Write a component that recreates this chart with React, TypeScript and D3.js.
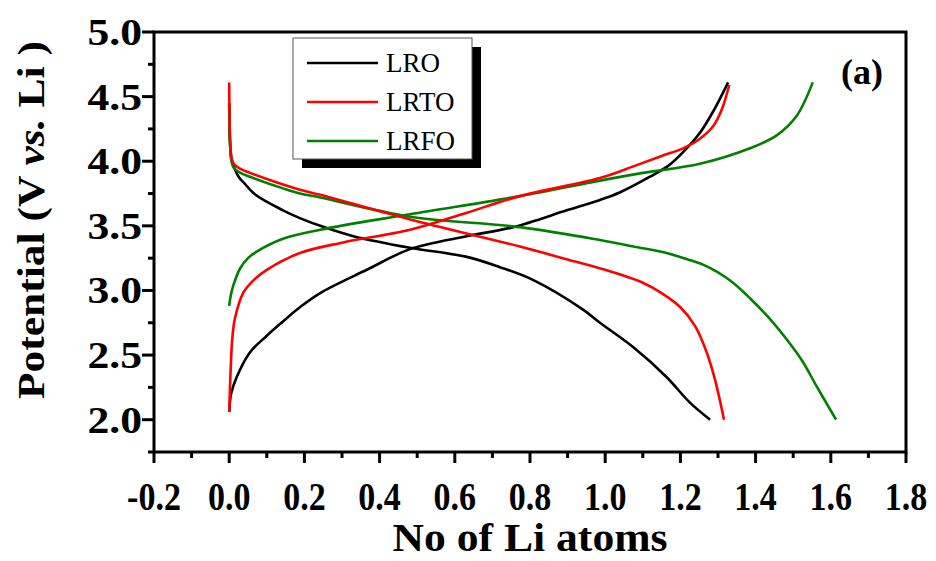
import React from "react";
import * as d3 from "d3";

const W = 936, H = 561;
const M = { left: 154, right: 906, top: 32, bottom: 452 };

const xTicks = [-0.2, 0.0, 0.2, 0.4, 0.6, 0.8, 1.0, 1.2, 1.4, 1.6, 1.8];
const yTicks = [2.0, 2.5, 3.0, 3.5, 4.0, 4.5, 5.0];

const seriesNames = ["LRO", "LRTO", "LRFO"];
const seriesColors = ["#000000", "#ff0000", "#008000"];

const lroCharge: [number, number][] = [
  [0, 2.06], [0.005, 2.2], [0.02, 2.33], [0.055, 2.52], [0.1, 2.65], [0.143, 2.76], [0.188, 2.87], [0.242, 2.98],
  [0.366, 3.16], [0.481, 3.32], [0.632, 3.42], [0.755, 3.49], [0.898, 3.62], [0.986, 3.7],
  [1.04, 3.76], [1.119, 3.88], [1.17, 3.97], [1.207, 4.07], [1.252, 4.22], [1.29, 4.4], [1.327, 4.61],
];
const lroDischarge: [number, number][] = [
  [0, 4.45], [0.002, 4.15], [0.006, 4.02], [0.012, 3.96], [0.025, 3.88], [0.04, 3.83], [0.07, 3.74],
  [0.143, 3.62], [0.188, 3.56], [0.242, 3.5],
  [0.33, 3.42], [0.481, 3.33], [0.632, 3.26], [0.72, 3.18], [0.809, 3.08], [0.942, 2.85], [0.986, 2.75],
  [1.075, 2.56], [1.163, 2.33], [1.226, 2.13], [1.279, 2.0],
];
const lrtoCharge: [number, number][] = [
  [0, 2.06], [0.004, 2.4], [0.008, 2.62], [0.015, 2.78], [0.037, 2.98], [0.065, 3.08], [0.1, 3.16], [0.188, 3.29],
  [0.3, 3.37], [0.481, 3.47], [0.63, 3.6], [0.773, 3.73], [0.986, 3.87], [1.075, 3.96], [1.15, 4.04], [1.207, 4.1],
  [1.25, 4.17], [1.287, 4.27], [1.31, 4.4], [1.33, 4.59],
];
const lrtoDischarge: [number, number][] = [
  [0, 4.61], [0.002, 4.2], [0.006, 4.03], [0.012, 3.98], [0.03, 3.94], [0.055, 3.91], [0.143, 3.82], [0.188, 3.78], [0.242, 3.74],
  [0.481, 3.55], [0.773, 3.34], [0.9, 3.24], [1.0, 3.16], [1.1, 3.06], [1.15, 2.98], [1.2, 2.87],
  [1.24, 2.72], [1.27, 2.52], [1.292, 2.31], [1.316, 2.0],
];
const lrfoCharge: [number, number][] = [
  [0, 2.88], [0.004, 2.96], [0.011, 3.04], [0.029, 3.17], [0.05, 3.25], [0.073, 3.3], [0.143, 3.4], [0.242, 3.47], [0.481, 3.59],
  [0.773, 3.73], [0.986, 3.85], [1.1, 3.91], [1.252, 3.98], [1.385, 4.1], [1.456, 4.2],
  [1.509, 4.35], [1.552, 4.61],
];
const lrfoDischarge: [number, number][] = [
  [0, 4.45], [0.002, 4.15], [0.006, 4.0], [0.012, 3.95], [0.03, 3.91], [0.055, 3.88], [0.143, 3.79], [0.188, 3.75], [0.242, 3.72],
  [0.481, 3.57], [0.773, 3.49], [0.986, 3.39], [1.075, 3.34], [1.163, 3.29], [1.22, 3.24],
  [1.26, 3.2], [1.3, 3.14], [1.34, 3.06], [1.385, 2.94], [1.435, 2.79], [1.483, 2.62], [1.525, 2.45],
  [1.562, 2.26], [1.614, 2.0],
];

const curves = [
  { data: lroCharge, s: 0 }, { data: lroDischarge, s: 0 },
  { data: lrfoCharge, s: 2 }, { data: lrfoDischarge, s: 2 },
  { data: lrtoCharge, s: 1 }, { data: lrtoDischarge, s: 1 },
];

export default function App() {
  const x = d3.scaleLinear().domain([-0.2, 1.8]).range([M.left, M.right]);
  const y = d3.scaleLinear().domain([1.75, 5.0]).range([M.bottom, M.top]);
  const line = d3.line<[number, number]>().x(d => x(d[0])).y(d => y(d[1])).curve(d3.curveCatmullRom.alpha(0.5));
  const xMinor = d3.range(-0.2, 1.81, 0.1).map(v => +v.toFixed(2));
  const yMinor = d3.range(1.75, 5.01, 0.25).map(v => +v.toFixed(2));
  const font = "'Liberation Serif', 'Times New Roman', serif";
  const lg = { x: 293, y: 38, w: 179, h: 121 };
  const yl = M.left - 12;
  return (
    <svg width={W} height={H} style={{ position: "absolute", left: 0, top: 0, background: "#fff" }}>
      <rect width={W} height={H} fill="#fff" />
      {curves.map((c, i) => (
        <path key={i} d={line(c.data) || ""} fill="none" stroke={seriesColors[c.s]} strokeWidth={2.6} strokeLinejoin="round" />
      ))}
      <rect x={M.left} y={M.top} width={M.right - M.left} height={M.bottom - M.top} fill="none" stroke="#000" strokeWidth={3} />
      {xMinor.map((v, i) => {
        const major = Math.abs(Math.round(v * 10) % 2) === 0;
        return <line key={"xm" + i} x1={x(v)} x2={x(v)} y1={M.bottom} y2={M.bottom + (major ? 11 : 6)} stroke="#000" strokeWidth={3} />;
      })}
      {xTicks.map((v, i) => (
        <text key={"xt" + i} x={x(v)} y={M.bottom + 58} textAnchor="middle" fontFamily={font} fontWeight="bold" fontSize={40}
          transform={`translate(${x(v)},0) scale(0.85,1) translate(${-x(v)},0)`}>{v.toFixed(1)}</text>
      ))}
      {yMinor.map((v, i) => {
        const major = Math.abs(Math.round(v * 100) % 50) === 0;
        return <line key={"ym" + i} x1={M.left} x2={M.left - (major ? 12 : 6)} y1={y(v)} y2={y(v)} stroke="#000" strokeWidth={3} />;
      })}
      {yTicks.map((v, i) => (
        <text key={"yt" + i} x={yl} y={y(v) + 13} textAnchor="end" fontFamily={font} fontWeight="bold" fontSize={39}
          transform={`translate(${yl},0) scale(1.12,1) translate(${-yl},0)`}>{v.toFixed(1)}</text>
      ))}
      <text x={530} y={551} textAnchor="middle" fontFamily={font} fontWeight="bold" fontSize={40}
        textLength={275} lengthAdjust="spacingAndGlyphs">No of Li atoms</text>
      <text transform="translate(44,220) rotate(-90)" textAnchor="middle" fontFamily={font} fontWeight="bold" fontSize={38}
        textLength={358} lengthAdjust="spacingAndGlyphs">
        Potential (V <tspan fontStyle="italic">vs.</tspan> Li )
      </text>
      <text x={862} y={84} textAnchor="middle" fontFamily={font} fontWeight="bold" fontSize={36}>(a)</text>
      <rect x={lg.x + 9} y={lg.y + 9} width={lg.w} height={lg.h} fill="#000" />
      <rect x={lg.x} y={lg.y} width={lg.w} height={lg.h} fill="#fff" stroke="#555" strokeWidth={1} />
      {seriesNames.map((n, i) => (
        <g key={n}>
          <line x1={307} x2={378} y1={63 + i * 39} y2={63 + i * 39} stroke={seriesColors[i]} strokeWidth={2.6} />
          <text x={386} y={63 + i * 39 + 9} fontFamily={font} fontSize={27}>{n}</text>
        </g>
      ))}
    </svg>
  );
}
